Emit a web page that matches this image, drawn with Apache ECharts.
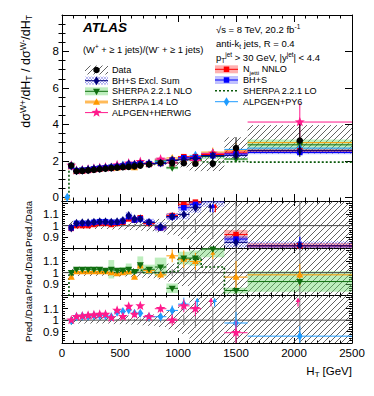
<!DOCTYPE html>
<html><head><meta charset="utf-8">
<script src="https://cdn.jsdelivr.net/npm/echarts@6.0.0/dist/echarts.min.js"></script>
<style>html,body{margin:0;padding:0;background:#fff;}#chart{width:374px;height:396px;}</style>
</head><body><div id="chart"></div>
<script>
// ===================== DATA =====================
// H_T bins [GeV]
const binLo = [30,60,100,150,200,250,300,350,400,450,500,550,600,650,700,800,900,1000,1100,1200,1400,1600];
const binHi = [60,100,150,200,250,300,350,400,450,500,550,600,650,700,800,900,1000,1100,1200,1400,1600,2500];
// tick labels
const xTicks = [0,500,1000,1500,2000,2500];
const yMainTicks = [0,2,4,6,8,10];
const yMainLabels = [0,2,4,6,8];
const yMainMinor = [0.5,1,1.5,2.5,3,3.5,4.5,5,5.5,6.5,7,7.5,8.5,9,9.5];
const yRatioLabels = [0.9,1,1.1];

// Data (ratio W+/W-)
const dataVal   = [null,1.75,1.43,1.45,1.48,1.51,1.54,1.57,1.60,1.63,1.65,1.67,1.70,1.74,1.80,1.90,1.88,1.87,1.84,1.85,2.70,3.12];
const dataStat  = [null,0.02,0.01,0.01,0.01,0.01,0.01,0.01,0.01,0.015,0.015,0.02,0.02,0.025,0.03,0.04,0.06,0.08,0.12,0.22,0.60,0.90];
const dataSysLo = [null,0.04,0.03,0.03,0.03,0.03,0.03,0.03,0.035,0.035,0.035,0.04,0.04,0.045,0.05,0.06,0.08,0.12,0.22,0.22,0.22,0.23];
const dataSysHi = [null,0.04,0.03,0.03,0.03,0.03,0.03,0.03,0.035,0.035,0.035,0.04,0.04,0.045,0.05,0.06,0.08,0.12,0.22,0.25,0.22,0.27];

// Predictions, main panel
const mNNLO = [null,1.71,1.43,1.45,1.48,1.53,1.57,1.60,1.62,1.66,1.70,1.77,1.79,1.86,1.84,1.86,2.05,2.23,2.23,2.35,2.48,2.56];
const mBHS  = [null,1.72,1.46,1.48,1.51,1.56,1.59,1.62,1.65,1.68,1.72,1.80,1.79,1.84,1.85,1.86,2.03,2.17,2.19,2.29,2.38,2.46];
const mBHSX = [null,1.72,1.46,1.49,1.52,1.56,1.59,1.62,1.65,1.69,1.72,1.82,1.80,1.84,1.85,1.88,2.03,2.06,2.13,2.28,2.30,2.56];
const mNLO  = [null,1.75,1.47,1.49,1.52,1.56,1.59,1.60,1.65,1.66,1.68,1.72,1.72,1.86,1.85,2.00,1.62,2.11,2.08,2.24,2.10,2.88];
const mSH14 = [0,1.68,1.44,1.46,1.49,1.53,1.56,1.59,1.60,1.61,1.65,1.69,1.63,1.84,1.84,1.86,2.16,2.09,2.02,2.48,2.59,3.00];
const mSHLO = [0,1.72,1.44,1.46,1.48,1.53,1.56,1.57,1.60,1.63,1.67,1.69,1.70,1.77,1.80,1.90,1.90,2.09,2.06,1.94,1.97,1.93];
const mAH   = [null,1.75,1.47,1.50,1.54,1.58,1.62,1.65,1.63,1.77,1.70,1.87,1.79,1.96,1.85,2.09,1.88,2.10,2.02,2.41,2.40,4.13];
const mAP   = [0,1.74,1.47,1.50,1.53,1.57,1.60,1.63,1.65,1.74,1.77,1.82,1.80,1.84,1.85,1.96,2.04,2.13,2.30,2.41,2.63,2.70];

// Pred./Data ratios
const rNNLO = [null,0.975,1.00,1.00,1.00,1.01,1.02,1.02,1.01,1.02,1.03,1.06,1.05,1.07,1.02,0.98,1.09,1.19,1.21,1.27,0.92,0.82];
const rBHS  = [null,0.98,1.02,1.02,1.02,1.03,1.035,1.035,1.03,1.03,1.04,1.08,1.05,1.06,1.03,0.98,1.08,1.16,1.19,1.24,0.88,0.79];
const rBHSX = [null,0.98,1.02,1.025,1.025,1.03,1.035,1.035,1.03,1.035,1.045,1.09,1.06,1.06,1.03,0.99,1.08,1.10,1.16,1.23,0.85,0.82];
const rNLO  = [null,1.00,1.03,1.03,1.03,1.03,1.03,1.02,1.03,1.02,1.02,1.03,1.01,1.07,1.03,1.05,0.86,1.13,1.13,1.21,0.84,0.92];
const rSH14 = [null,0.96,1.01,1.01,1.01,1.01,1.01,1.01,1.00,0.99,1.00,1.01,0.96,1.06,1.02,0.98,1.15,1.12,1.10,1.34,0.96,0.98];
const rSHLO = [0,0.98,1.01,1.01,1.00,1.01,1.01,1.00,1.00,1.00,1.01,1.01,1.00,1.02,1.00,1.00,1.01,1.12,1.12,1.05,0.73,0.62];
const rAH   = [null,1.00,1.03,1.035,1.04,1.045,1.05,1.05,1.02,1.085,1.03,1.12,1.05,1.125,1.03,1.10,1.00,1.125,1.10,1.30,0.89,1.32];
const rAP   = [null,0.995,1.03,1.035,1.035,1.04,1.04,1.04,1.03,1.07,1.075,1.09,1.06,1.06,1.03,1.03,1.085,1.14,1.25,1.30,0.975,0.86];

// relative uncertainties of predictions
const relNNLO = [null,0.01,0.01,0.01,0.01,0.01,0.01,0.01,0.01,0.01,0.012,0.015,0.015,0.015,0.015,0.02,0.02,0.02,0.02,0.03,0.045,0.03];
const relBHS  = [null,0.01,0.01,0.01,0.01,0.01,0.01,0.01,0.01,0.01,0.01,0.015,0.015,0.015,0.015,0.02,0.02,0.02,0.02,0.03,0.03,0.04];
const relBHSX = [null,0.02,0.02,0.02,0.02,0.02,0.02,0.02,0.02,0.025,0.025,0.03,0.03,0.03,0.03,0.04,0.03,0.04,0.04,0.05,0.06,0.05];
const relNLO  = [null,0.01,0.01,0.01,0.012,0.015,0.02,0.02,0.08,0.02,0.03,0.05,0.02,0.07,0.04,0.08,0.05,0.05,0.06,0.06,0.03,0.10];
const statSH14 = [0,0.01,0.005,0.005,0.005,0.005,0.005,0.01,0.01,0.01,0.01,0.015,0.015,0.02,0.02,0.03,0.05,0.07,0.07,0.10,0.15,0.10];
const statAH   = [0,0.01,0.005,0.005,0.005,0.005,0.01,0.01,0.01,0.015,0.015,0.02,0.02,0.02,0.02,0.03,0.05,0.05,0.06,0.10,0.12,0.25];
const statAP   = [0,0.01,0.005,0.005,0.005,0.005,0.01,0.01,0.01,0.015,0.015,0.02,0.02,0.02,0.02,0.03,0.04,0.05,0.06,0.10,0.10,0.10];

// ===================== STYLE / HELPERS =====================
const FONT = '"Liberation Sans", Arial, Helvetica, sans-serif';
const C = {navy:'#00007a', blue:'#0000ff', red:'#ff0000', green:'#0f6e0f', orange:'#ff9900',
           pink:'#ff1a8c', lblue:'#1f9cff', lo:'#0b5a0b', hatch:'#3a3a3a', unity:'#4a4a4a'};
const FILL = {red:'rgba(255,50,50,0.38)', blue:'rgba(50,50,255,0.30)', green:'rgba(100,215,100,0.42)',
              cross:'rgba(60,60,220,0.60)', orangeLt:'rgba(255,170,60,0.40)'};
const YR = [[-0.2,10],[0.8,1.22],[0.8,1.22],[0.8,1.22]];
const GRID_TOP = [15,201,248,295], GRID_H = [186,47,47,48];

function hatchLines(x0,y0,x1,y1,s,dir,style){
  if (x1<x0) { const t=x0; x0=x1; x1=t; }
  if (y1<y0) { const t=y0; y0=y1; y1=t; }
  const out=[];
  if (dir===1){
    for (let c=Math.ceil((x0+y0)/s)*s; c<=x1+y1; c+=s){
      const xa=Math.max(x0,c-y1), xb=Math.min(x1,c-y0);
      if (xb>xa) out.push({type:'line',silent:true,shape:{x1:xa,y1:c-xa,x2:xb,y2:c-xb},style});
    }
  } else {
    for (let c=Math.ceil((x0-y1)/s)*s; c<=x1-y0; c+=s){
      const xa=Math.max(x0,c+y0), xb=Math.min(x1,c+y1);
      if (xb>xa) out.push({type:'line',silent:true,shape:{x1:xa,y1:xa-c,x2:xb,y2:xb-c},style});
    }
  }
  return out;
}
function mk(sym,cx,cy,s,color){
  const st={fill:color}, h=s/2;
  switch(sym){
    case 'circle': return {type:'circle',shape:{cx,cy,r:h},style:st};
    case 'square': return {type:'rect',shape:{x:cx-h,y:cy-h,width:s,height:s},style:st};
    case 'diamond': return {type:'polygon',shape:{points:[[cx,cy-h*1.3],[cx+h*0.8,cy],[cx,cy+h*1.3],[cx-h*0.8,cy]]},style:st};
    case 'tri': return {type:'polygon',shape:{points:[[cx,cy-h*1.1],[cx+h,cy+h*0.75],[cx-h,cy+h*0.75]]},style:st};
    case 'trid': return {type:'polygon',shape:{points:[[cx,cy+h*1.1],[cx+h,cy-h*0.75],[cx-h,cy-h*0.75]]},style:st};
    case 'star': { const pts=[]; for(let k=0;k<10;k++){ const r=k%2?h*0.45:h*1.1; const a=-Math.PI/2+k*Math.PI/5; pts.push([cx+r*Math.cos(a),cy+r*Math.sin(a)]); } return {type:'polygon',shape:{points:pts},style:st}; }
  }
  return null;
}
function arrow(x,yFrom,yTo,color){
  const dir = yTo<yFrom ? -1 : 1;
  return [
    {type:'line',shape:{x1:x,y1:yFrom,x2:x,y2:yTo},style:{stroke:color,lineWidth:1.2}},
    {type:'polygon',shape:{points:[[x,yTo+dir*0.5],[x-2.4,yTo-dir*3.5],[x+2.4,yTo-dir*3.5]]},style:{fill:color}}
  ];
}
function bandArr(vals,rel,sign){ return vals.map((v,i)=> (v==null||rel[i]==null)?null:v*(1+sign*rel[i])); }

function bandSeries(g,lo,hi,o){
  const data=[];
  for (let i=0;i<binLo.length;i++){ if(lo[i]==null||hi[i]==null) continue; data.push([binLo[i],binHi[i],lo[i],hi[i]]); }
  return {type:'custom',xAxisIndex:2*g,yAxisIndex:2*g,silent:true,z:o.z||2,data,encode:{x:[0,1],y:[2,3]},
    renderItem:(p,api)=>{
      const cs=p.coordSys;
      const a=api.coord([api.value(0),api.value(3)]), b=api.coord([api.value(1),api.value(2)]);
      const x0=a[0], x1=b[0];
      const y0=Math.max(a[1],cs.y), y1=Math.min(b[1],cs.y+cs.height);
      const ch=[];
      if (y1>y0){
        if (o.fill) ch.push({type:'rect',shape:{x:x0,y:y0,width:x1-x0,height:y1-y0},style:{fill:o.fill}});
        if (o.hatch) ch.push(...hatchLines(x0,y0,x1,y1,o.hatch.s,1,{stroke:o.hatch.color,lineWidth:o.hatch.w}));
        if (o.cross){
          ch.push(...hatchLines(x0,y0,x1,y1,o.cross.s,1,{stroke:o.cross.color,lineWidth:o.cross.w}));
          ch.push(...hatchLines(x0,y0,x1,y1,o.cross.s,-1,{stroke:o.cross.color,lineWidth:o.cross.w}));
        }
      }
      return {type:'group',children:ch};
    }};
}
function markerSeries(g,vals,errs,sym,color,size,o){
  o=o||{};
  const ymin=YR[g][0], ymax=YR[g][1];
  const data=[];
  for (let i=0;i<vals.length;i++){
    if (vals[i]==null) continue;
    const e = errs ? (o.rel ? vals[i]*(errs[i]||0) : (errs[i]||0)) : 0;
    data.push([binLo[i],binHi[i],vals[i],e]);
  }
  return {type:'custom',xAxisIndex:2*g,yAxisIndex:2*g,silent:true,z:o.z||4,data,encode:{x:[0,1],y:2},
    renderItem:(p,api)=>{
      const xl=api.value(0), xh=api.value(1), v=api.value(2), e=api.value(3);
      const xc=(xl+xh)/2, ch=[], dx=o.dx||0;
      if (v>ymax){
        const a=api.coord([xc,ymax-0.1]), b=api.coord([xc,ymax-0.03]);
        ch.push(...arrow(a[0]+dx,a[1],b[1],color));
      } else if (v<ymin){
        const a=api.coord([xc,ymin+0.1]), b=api.coord([xc,ymin+0.02]);
        ch.push(...arrow(a[0]+dx,a[1],b[1],color));
      } else {
        const c=api.coord([xc,v]);
        if (o.xbar!==false){
          const l=api.coord([xl,v]), r=api.coord([xh,v]);
          ch.push({type:'line',shape:{x1:l[0],y1:c[1],x2:r[0],y2:c[1]},style:{stroke:color,lineWidth:o.lw||1}});
        }
        if (e>0){
          const t=api.coord([xc,Math.min(v+e,ymax)]), bt=api.coord([xc,Math.max(v-e,ymin)]);
          ch.push({type:'line',shape:{x1:c[0],y1:t[1],x2:c[0],y2:bt[1]},style:{stroke:o.ecolor||color,lineWidth:1}});
        }
        const m=mk(sym,c[0],c[1],size,color); if (m) ch.push(m);
      }
      return {type:'group',children:ch};
    }};
}
function stepSeries(g,vals){
  const d=binLo.map((x,i)=>[x,vals[i]]);
  d.push([binHi[binHi.length-1],vals[vals.length-1]]);
  return {type:'line',xAxisIndex:2*g,yAxisIndex:2*g,data:d,step:'end',symbol:'none',silent:true,z:3,clip:true,
    lineStyle:{color:C.lo,width:1.6,type:[2,2]}};
}
function unitySeries(g){
  return {type:'line',xAxisIndex:2*g,yAxisIndex:2*g,data:[[xTicks[0],1],[xTicks[xTicks.length-1],1]],symbol:'none',silent:true,z:3,
    lineStyle:{color:C.unity,width:1}};
}

// ===================== AXES =====================
const grids = GRID_TOP.map((t,i)=>({left:62,right:22,top:t,height:GRID_H[i],containLabel:false,outerBoundsMode:'none'}));
const xAxes=[];
for (let g=0; g<4; g++){
  for (const pos of ['bottom','top']){
    xAxes.push({gridIndex:g,type:'value',position:pos,min:xTicks[0],max:xTicks[xTicks.length-1],interval:500,
      axisLine:{show:true,onZero:false,lineStyle:{color:'#000',width:1}},
      axisTick:{show:true,inside:true,length:g===0?7:5,lineStyle:{color:'#000',width:1}},
      minorTick:{show:true,splitNumber:5,length:g===0?3.5:2.5,lineStyle:{color:'#000',width:1}},
      splitLine:{show:false},minorSplitLine:{show:false},
      axisLabel:{show:g===3&&pos==='bottom',formatter:v=>String(Math.round(v)),fontSize:11.5,color:'#000',margin:4,fontFamily:FONT,showMinLabel:true,showMaxLabel:true,hideOverlap:false}});
  }
}
const fmtRatio = v => { const r=Math.round(v*100)/100; return yRatioLabels.indexOf(r)>=0 ? String(r) : ''; };
const yAxes=[];
for (const pos of ['left','right']){
  yAxes.push({gridIndex:0,type:'value',position:pos,min:YR[0][0],max:YR[0][1],
    axisLine:{show:true,onZero:false,lineStyle:{color:'#000',width:1}},
    axisTick:{show:true,inside:true,length:7,customValues:yMainTicks,lineStyle:{color:'#000'}},
    axisLabel:{show:pos==='left',customValues:yMainLabels,formatter:v=>String(v),fontSize:11.5,color:'#000',margin:3,fontFamily:FONT},
    splitLine:{show:false}});
}
for (let g=1; g<4; g++){
  for (const pos of ['left','right']){
    yAxes.push({gridIndex:g,type:'value',position:pos,min:YR[g][0],max:YR[g][1],interval:0.1,
      axisLine:{show:true,onZero:false,lineStyle:{color:'#000',width:1}},
      axisTick:{show:true,inside:true,length:6,lineStyle:{color:'#000'}},
      minorTick:{show:true,splitNumber:5,length:3,lineStyle:{color:'#000'}},
      axisLabel:{show:pos==='left',formatter:fmtRatio,fontSize:11.5,color:'#000',margin:3,fontFamily:FONT,showMinLabel:true,showMaxLabel:true},
      splitLine:{show:false},minorSplitLine:{show:false}});
  }
}
for (const pos of ['left','right']){
  yAxes.push({gridIndex:0,type:'value',position:pos,min:YR[0][0],max:YR[0][1],
    axisLine:{show:false},axisTick:{show:true,inside:true,length:3.5,customValues:yMainMinor,lineStyle:{color:'#000'}},
    axisLabel:{show:false},splitLine:{show:false}});
}

// ===================== SERIES =====================
const HATCH={s:6,color:C.hatch,w:0.8}, CROSS={s:3,color:FILL.cross,w:0.6};
const ones = dataVal.map(v=>v==null?null:1);
const dataRelStat = dataVal.map((v,i)=>v==null?null:dataStat[i]/v);
const series=[];
// main panel
series.push(bandSeries(0,bandArr(dataVal,dataSysLo,-1),bandArr(dataVal,dataSysHi,1),{hatch:HATCH,z:1}));
series.push(bandSeries(0,bandArr(mNLO,relNLO,-1),bandArr(mNLO,relNLO,1),{fill:FILL.green}));
series.push(bandSeries(0,bandArr(mNNLO,relNNLO,-1),bandArr(mNNLO,relNNLO,1),{fill:FILL.red}));
series.push(bandSeries(0,bandArr(mBHS,relBHS,-1),bandArr(mBHS,relBHS,1),{fill:FILL.blue}));
series.push(bandSeries(0,bandArr(mBHSX,relBHSX,-1),bandArr(mBHSX,relBHSX,1),{cross:CROSS}));
series.push(stepSeries(0,mSHLO));
series.push(markerSeries(0,mSH14,statSH14,'tri',C.orange,7,{rel:true}));
series.push(markerSeries(0,mNLO,null,'trid',C.green,7));
series.push(markerSeries(0,mAP,statAP,'diamond',C.lblue,7,{rel:true}));
series.push(markerSeries(0,mAH,statAH,'star',C.pink,9.5,{rel:true}));
series.push(markerSeries(0,mNNLO,null,'square',C.red,5.5));
series.push(markerSeries(0,mBHS,null,'square',C.blue,5.5));
series.push(markerSeries(0,mBHSX,null,'diamond',C.navy,7));
series.push(markerSeries(0,dataVal,dataStat,'circle','#000',6.5,{xbar:false,z:6}));
// ratio panel 1
series.push(bandSeries(1,ones.map((v,i)=>v==null?null:v-dataSysLo[i]),ones.map((v,i)=>v==null?null:v+dataSysHi[i]),{hatch:HATCH,z:1}));
series.push(bandSeries(1,bandArr(rNNLO,relNNLO,-1),bandArr(rNNLO,relNNLO,1),{fill:FILL.red}));
series.push(bandSeries(1,bandArr(rBHS,relBHS,-1),bandArr(rBHS,relBHS,1),{fill:FILL.blue}));
series.push(bandSeries(1,bandArr(rBHSX,relBHSX,-1),bandArr(rBHSX,relBHSX,1),{cross:CROSS}));
series.push(unitySeries(1));
series.push(markerSeries(1,ones,dataRelStat,'none','#777',0,{rel:true,xbar:false}));
series.push(markerSeries(1,rNNLO,null,'square',C.red,5.5,{dx:2.5}));
series.push(markerSeries(1,rBHS,null,'square',C.blue,5.5,{dx:0}));
series.push(markerSeries(1,rBHSX,null,'diamond',C.navy,7,{dx:-2.5}));
// ratio panel 2
series.push(bandSeries(2,ones.map((v,i)=>v==null?null:v-dataSysLo[i]),ones.map((v,i)=>v==null?null:v+dataSysHi[i]),{hatch:HATCH,z:1}));
series.push(bandSeries(2,bandArr(rNLO,relNLO,-1),bandArr(rNLO,relNLO,1),{fill:FILL.green}));
series.push(unitySeries(2));
series.push(markerSeries(2,ones,dataRelStat,'none','#777',0,{rel:true,xbar:false}));
series.push(stepSeries(2,rSHLO));
series.push(markerSeries(2,rSH14,statSH14,'tri',C.orange,7,{rel:true}));
series.push(markerSeries(2,rNLO,null,'trid',C.green,7));
// ratio panel 3
series.push(bandSeries(3,ones.map((v,i)=>v==null?null:v-dataSysLo[i]),ones.map((v,i)=>v==null?null:v+dataSysHi[i]),{hatch:HATCH,z:1}));
series.push(unitySeries(3));
series.push(markerSeries(3,ones,dataRelStat,'none','#777',0,{rel:true,xbar:false}));
series.push(markerSeries(3,rAP,statAP,'diamond',C.lblue,7,{rel:true,dx:1.8}));
series.push(markerSeries(3,rAH,statAH,'star',C.pink,9.5,{rel:true,dx:-1.8}));

// ===================== TEXT / LEGEND =====================
const G=[];
function txt(x,y,text,size,extra){
  return {type:'text',x,y,silent:true,z:10,style:Object.assign({text,fontSize:size,fontFamily:FONT,fill:'#000',align:'left',verticalAlign:'middle'},extra||{})};
}
function rich(size){
  return {b:{fontSize:size,fontFamily:FONT,lineHeight:size+3,verticalAlign:'middle',fill:'#000'},
          p:{fontSize:size*0.68,fontFamily:FONT,lineHeight:size*0.7,verticalAlign:'top',fill:'#000'},
          s:{fontSize:size*0.68,fontFamily:FONT,lineHeight:size*0.7,verticalAlign:'bottom',fill:'#000'}};
}
// axis titles
const yt=txt(26,15,'{b|dσ}{p|W+}{b|/dH}{s|T}{b| / dσ}{p|W-}{b|/dH}{s|T}',12,{align:'right',rich:rich(12.5)});
yt.rotation=Math.PI/2; G.push(yt);
[201,248.5,296].forEach(y=>{ const t=txt(28,y,'Pred./Data',9.6,{align:'right'}); t.rotation=Math.PI/2; G.push(t); });
G.push(txt(352,371,'{b|H}{s|T}{b| [GeV]}',11.5,{align:'right',rich:rich(11.5)}));
// labels
G.push(txt(83,27.5,'ATLAS',13.5,{fontWeight:'bold',fontStyle:'italic'}));
G.push(txt(83,49.5,'{b|(W}{p|+}{b| + ≥ 1 jets)/(W}{p|-}{b| + ≥ 1 jets)}',9.3,{rich:rich(9.4)}));
G.push(txt(216,29.5,'{b|√s = 8 TeV, 20.2 fb}{p|-1}',9.4,{rich:rich(9.5)}));
G.push(txt(216,43.5,'{b|anti-k}{s|t}{b| jets, R = 0.4}',9.4,{rich:rich(9.5)}));
G.push(txt(216,57.5,'{b|p}{s|T}{p|jet}{b| > 30 GeV, |y}{p|jet}{b|| < 4.4}',9.4,{rich:rich(9.5)}));

// legend
const LX0=85, LX1=108, LMX=96.5, LT=112, LY=[70,80.7,91.3,102,112.6];
const RX0=215, RX1=238, RMX=226.5, RT=243, RY=[69.3,80,90.7,101.7];
const LFS=9.1;
function lrect(x0,x1,y,h,fill){ return {type:'rect',silent:true,z:10,shape:{x:x0,y:y-h/2,width:x1-x0,height:h},style:{fill}}; }
function lline(x0,x1,y,color,w,dash){ return {type:'line',silent:true,z:10,shape:{x1:x0,y1:y,x2:x1,y2:y},style:{stroke:color,lineWidth:w||1,lineDash:dash||null}}; }
function lmk(sym,x,y,s,color){ const m=mk(sym,x,y,s,color); m.z=11; m.silent=true; return m; }
G.push({type:'group',z:10,silent:true,children:hatchLines(LX0,LY[0]-4.5,LX1,LY[0]+4.5,6,1,{stroke:C.hatch,lineWidth:0.8})});
G.push(lmk('circle',LMX,LY[0],6.5,'#000'));
G.push({type:'group',z:10,silent:true,children:hatchLines(LX0,LY[1]-4,LX1,LY[1]+4,3,1,{stroke:FILL.cross,lineWidth:0.6}).concat(hatchLines(LX0,LY[1]-4,LX1,LY[1]+4,3,-1,{stroke:FILL.cross,lineWidth:0.6}))});
G.push(lline(LX0,LX1,LY[1],C.navy,1)); G.push(lmk('diamond',LMX,LY[1],7,C.navy));
G.push(lrect(LX0,LX1,LY[2],8,FILL.green)); G.push(lline(LX0,LX1,LY[2],C.green,1)); G.push(lmk('trid',LMX,LY[2],7,C.green));
G.push(lrect(LX0,LX1,LY[3],4,FILL.orangeLt)); G.push(lline(LX0,LX1,LY[3],C.orange,1)); G.push(lmk('tri',LMX,LY[3],7,C.orange));
G.push(lline(LX0,LX1,LY[4],C.pink,1)); G.push(lmk('star',LMX,LY[4],9.5,C.pink));
['Data','BH+S Excl. Sum','SHERPA 2.2.1 NLO','SHERPA 1.4 LO','ALPGEN+HERWIG'].forEach((t,i)=>G.push(txt(LT,LY[i],t,LFS)));
G.push(lrect(RX0,RX1,RY[0],8,FILL.red)); G.push(lline(RX0,RX1,RY[0],C.red,1)); G.push(lmk('square',RMX,RY[0],5.5,C.red));
G.push(lrect(RX0,RX1,RY[1],8,FILL.blue)); G.push(lline(RX0,RX1,RY[1],C.blue,1)); G.push(lmk('square',RMX,RY[1],5.5,C.blue));
G.push(lline(RX0,RX1,RY[2],C.lo,1.6,[2,2]));
G.push(lline(RX0,RX1,RY[3],C.lblue,1)); G.push(lmk('diamond',RMX,RY[3],7,C.lblue));
G.push(txt(RT,RY[0],'{b|N}{s|jetti}{b| NNLO}',LFS,{rich:rich(LFS)}));
G.push(txt(RT,RY[1],'BH+S',LFS));
G.push(txt(RT,RY[2],'SHERPA 2.2.1 LO',LFS));
G.push(txt(RT,RY[3],'ALPGEN+PY6',LFS));

const chart = echarts.init(document.getElementById('chart'),null,{renderer:'svg',width:374,height:396});
chart.setOption({animation:false,backgroundColor:'#fff',textStyle:{fontFamily:FONT},
  grid:grids,xAxis:xAxes,yAxis:yAxes,series:series,graphic:G});
</script></body></html>
